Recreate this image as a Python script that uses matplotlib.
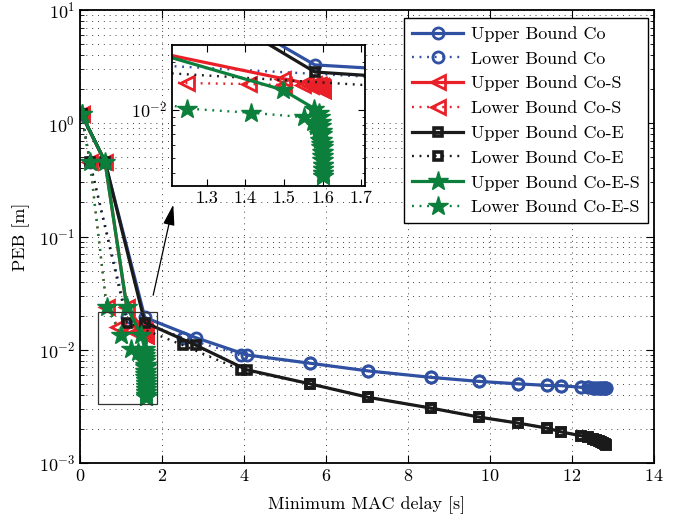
import matplotlib
matplotlib.use("Agg")
import matplotlib.pyplot as plt
from matplotlib.patches import Rectangle
from matplotlib.ticker import LogLocator, NullFormatter, FixedLocator

plt.rcParams.update({
    "font.family": "serif",
    "font.serif": ["cmr10", "DejaVu Serif"],
    "mathtext.fontset": "cm",
    "axes.formatter.use_mathtext": True,
    "font.size": 13,
})

# ---- data: minimum MAC delay [s] vs. PEB [m] ----
# Co and Co-E share the same sweep of delays
delay_upper_co = [0.04, 0.61, 1.58, 2.82, 4.07, 5.61, 7.03, 8.57, 9.74, 10.69, 11.40,
                  11.74, 12.22, 12.40, 12.50, 12.58, 12.65, 12.71, 12.76, 12.80, 12.83]
delay_lower_co = [0.04, 0.24, 1.15, 2.50, 3.92, 5.61, 7.03, 8.57, 9.74, 10.69, 11.40,
                  11.74, 12.22, 12.40, 12.50, 12.58, 12.65, 12.71, 12.76, 12.80, 12.83]
peb_co = [1.2, 0.458, 0.0193, 0.0128, 0.0090, 0.0076, 0.0065, 0.0057, 0.00525, 0.0050,
          0.00484, 0.00482, 0.00466, 0.00465, 0.00463, 0.00462, 0.00461, 0.00460,
          0.00459, 0.00458, 0.00458]
peb_coe = [1.2, 0.458, 0.0174, 0.0110, 0.00665, 0.0050, 0.0038, 0.00305, 0.00254,
           0.00225, 0.00203, 0.00188, 0.00174, 0.00168, 0.00163, 0.00159, 0.00155,
           0.00152, 0.00149, 0.00147, 0.00145]

# Co-S
delay_upper_s = [0.04, 0.61, 1.14, 1.497, 1.557, 1.578, 1.587, 1.592, 1.595, 1.597, 1.598,
                 1.599, 1.600, 1.600, 1.600, 1.600, 1.600, 1.600, 1.600, 1.600, 1.600]
delay_lower_s = [0.04, 0.24, 0.65, 0.93, 1.25, 1.41, 1.50, 1.55, 1.57, 1.58, 1.585,
                 1.590, 1.592, 1.594, 1.596, 1.597, 1.598, 1.599, 1.600, 1.600, 1.600]
peb_s = [1.2, 0.458, 0.0240, 0.0158, 0.0148, 0.0146, 0.0144, 0.0143, 0.0142, 0.0141,
         0.0140, 0.0139, 0.0138, 0.0137, 0.0136, 0.0136, 0.0135, 0.0135, 0.0134,
         0.0134, 0.0134]

# Co-E-S
delay_upper_es = [0.04, 0.61, 1.14, 1.497, 1.579, 1.590, 1.594, 1.596, 1.597, 1.598, 1.599,
                  1.599, 1.600, 1.600, 1.600, 1.600, 1.600, 1.600, 1.600, 1.600, 1.600]
delay_lower_es = [0.04, 0.24, 0.65, 1.01, 1.25, 1.415, 1.553, 1.574, 1.583, 1.588, 1.592,
                  1.594, 1.596, 1.597, 1.598, 1.599, 1.599, 1.600, 1.600, 1.600, 1.600]
peb_es = [1.2, 0.458, 0.0240, 0.0134, 0.0102, 0.0096, 0.0090, 0.0084, 0.0079, 0.0074,
          0.0070, 0.0065, 0.0061, 0.0058, 0.0054, 0.0051, 0.0048, 0.0045, 0.0042,
          0.0040, 0.0038]

labels = ["Upper Bound Co", "Lower Bound Co", "Upper Bound Co-S", "Lower Bound Co-S",
          "Upper Bound Co-E", "Lower Bound Co-E", "Upper Bound Co-E-S", "Lower Bound Co-E-S"]

BLUE = "#3050a2"
RED = "#ea2028"
BLACK = "#1a1a1a"
GREEN = "#0b7f3b"
DOT = (0, (0.8, 2.4))

series = [
    (delay_upper_co, peb_co, dict(color=BLUE, ls="-", lw=2.3, marker="o", ms=8, mfc="none", mew=2.0)),
    (delay_lower_co, peb_co, dict(color=BLUE, ls=DOT, lw=1.7, marker="o", ms=8, mfc="none", mew=2.0)),
    (delay_upper_s, peb_s, dict(color=RED, ls="-", lw=2.3, marker="<", ms=9.5, mfc="none", mew=2.0)),
    (delay_lower_s, peb_s, dict(color=RED, ls=DOT, lw=1.7, marker="<", ms=9.5, mfc="none", mew=2.0)),
    (delay_upper_co, peb_coe, dict(color=BLACK, ls="-", lw=2.3, marker="s", ms=6.2, mfc="none", mew=2.6)),
    (delay_lower_co, peb_coe, dict(color=BLACK, ls=DOT, lw=1.7, marker="s", ms=6.2, mfc="none", mew=2.6)),
    (delay_upper_es, peb_es, dict(color=GREEN, ls="-", lw=2.3, marker="*", ms=15, mfc=GREEN, mew=1.0)),
    (delay_lower_es, peb_es, dict(color=GREEN, ls=DOT, lw=1.7, marker="*", ms=15, mfc=GREEN, mew=1.0)),
]

W, H = 689, 521
fig = plt.figure(figsize=(W / 100, H / 100), dpi=100)
ax = fig.add_axes([80 / W, 1 - 463 / H, (654 - 80) / W, (463 - 10) / H])

handles = []
for (x, y, kw), lab in zip(series, labels):
    h, = ax.plot(x, y, label=lab, **kw)
    handles.append(h)

ax.set_yscale("log")
ax.set_xlim(0, 14)
ax.set_ylim(1e-3, 1e1)
ax.set_xticks(range(0, 15, 2))
ax.yaxis.set_major_locator(LogLocator(base=10, numticks=10))
ax.yaxis.set_minor_locator(LogLocator(base=10, subs=range(2, 10), numticks=20))
ax.yaxis.set_minor_formatter(NullFormatter())
ax.tick_params(which="both", direction="in", top=True, right=True)
ax.tick_params(which="major", length=6, width=0.8)
ax.tick_params(which="minor", length=3, width=0.6)
for s in ax.spines.values():
    s.set_linewidth(1.3)
ax.grid(True, which="major", axis="x", color="#444444", ls=(0, (1, 5)), lw=0.7)
ax.grid(True, which="both", axis="y", color="#444444", ls=(0, (1, 5)), lw=0.7)
ax.set_xlabel("Minimum MAC delay [s]", labelpad=9)
ax.set_ylabel("PEB [m]", labelpad=6)

# zoom region and pointer
ax.add_patch(Rectangle((0.44, 0.00335), 1.43, 0.0216 - 0.00335, fill=False,
                       ec="#333333", lw=0.9, zorder=5))
ax.annotate("", xy=(2.29, 0.202), xytext=(1.77, 0.0287),
            arrowprops=dict(arrowstyle="-|>,head_length=0.9,head_width=0.25",
                            color="k", lw=0.9, mutation_scale=14))

leg = ax.legend(handles=handles, loc="upper right",
                bbox_to_anchor=(648 / W, 1 - 18 / H), bbox_transform=fig.transFigure,
                borderaxespad=0, fancybox=False, framealpha=1, edgecolor="k",
                handlelength=2.8, handletextpad=0.45, labelspacing=0.5, fontsize=13,
                borderpad=0.45)
leg.get_frame().set_linewidth(1.0)

# inset
axi = fig.add_axes([172 / W, 1 - 186 / H, (365 - 172) / W, (186 - 45) / H])
for (x, y, kw) in series:
    axi.plot(x, y, **kw)
axi.set_yscale("log")
axi.set_xlim(1.21, 1.71)
axi.set_ylim(0.0033, 0.0258)
axi.xaxis.set_major_locator(FixedLocator([1.3, 1.4, 1.5, 1.6, 1.7]))
axi.set_xticklabels(["1.3", "1.4", "1.5", "1.6", "1.7"])
axi.yaxis.set_major_locator(FixedLocator([0.01]))
axi.yaxis.set_minor_locator(LogLocator(base=10, subs=range(2, 10), numticks=20))
axi.yaxis.set_minor_formatter(NullFormatter())
axi.set_yticklabels([r"$10^{-2}$"])
axi.tick_params(which="both", direction="in", top=True, right=True)
axi.tick_params(which="major", length=5, width=0.8)
axi.tick_params(which="minor", length=2.5, width=0.6)
for s in axi.spines.values():
    s.set_linewidth(1.3)

fig.savefig("out.png", dpi=100)
